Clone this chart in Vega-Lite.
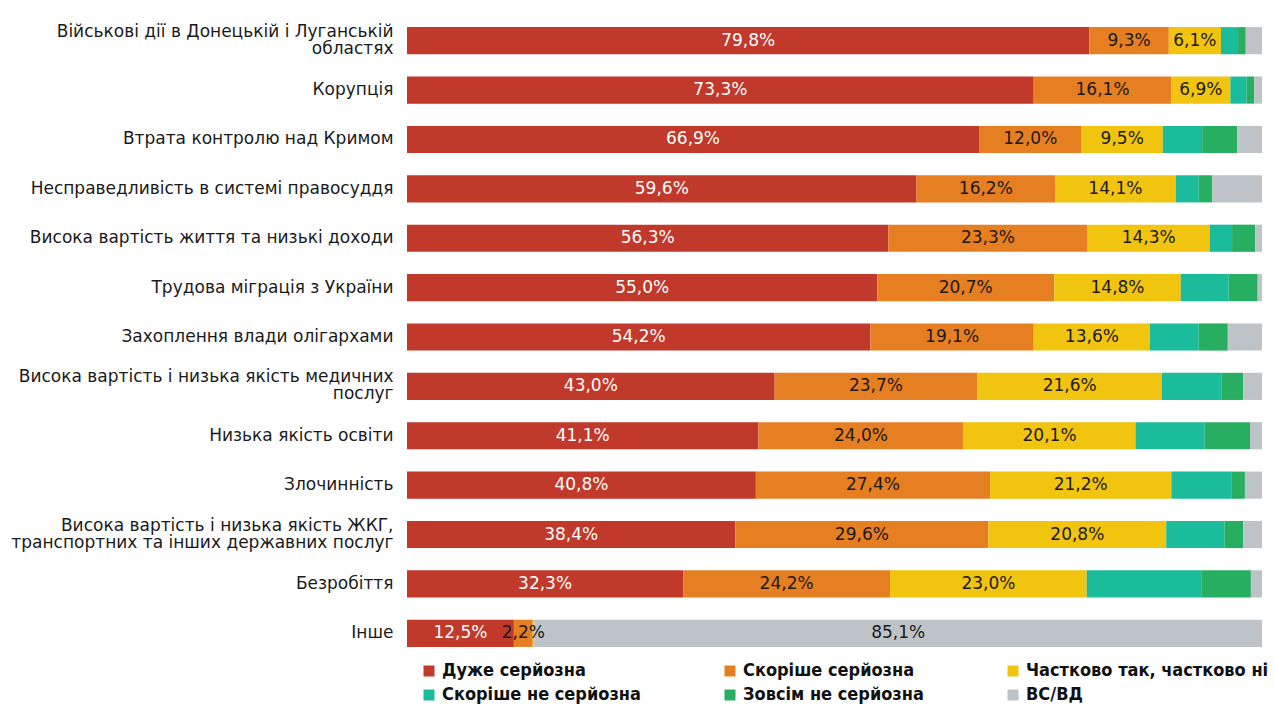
{
  "$schema": "https://vega.github.io/schema/vega-lite/v6.json",
  "width": 855,
  "height": 642,
  "autosize": {"type": "none"},
  "padding": {"left": 407, "top": 16, "right": 12, "bottom": 46},
  "background": "white",
  "config": {"view": {"stroke": null}, "font": "DejaVu Sans"},
  "data": {"values": [
    {"c": "Військові дії в Донецькій і Луганській областях", "r": "Дуже серйозна", "o": 1, "v": 79.8},
    {"c": "Військові дії в Донецькій і Луганській областях", "r": "Скоріше серйозна", "o": 2, "v": 9.3},
    {"c": "Військові дії в Донецькій і Луганській областях", "r": "Частково так, частково ні", "o": 3, "v": 6.1},
    {"c": "Військові дії в Донецькій і Луганській областях", "r": "Скоріше не серйозна", "o": 4, "v": 2.0},
    {"c": "Військові дії в Донецькій і Луганській областях", "r": "Зовсім не серйозна", "o": 5, "v": 0.9},
    {"c": "Військові дії в Донецькій і Луганській областях", "r": "ВС/ВД", "o": 6, "v": 1.9},
    {"c": "Корупція", "r": "Дуже серйозна", "o": 1, "v": 73.3},
    {"c": "Корупція", "r": "Скоріше серйозна", "o": 2, "v": 16.1},
    {"c": "Корупція", "r": "Частково так, частково ні", "o": 3, "v": 6.9},
    {"c": "Корупція", "r": "Скоріше не серйозна", "o": 4, "v": 1.9},
    {"c": "Корупція", "r": "Зовсім не серйозна", "o": 5, "v": 0.9},
    {"c": "Корупція", "r": "ВС/ВД", "o": 6, "v": 0.9},
    {"c": "Втрата контролю над Кримом", "r": "Дуже серйозна", "o": 1, "v": 66.9},
    {"c": "Втрата контролю над Кримом", "r": "Скоріше серйозна", "o": 2, "v": 12.0},
    {"c": "Втрата контролю над Кримом", "r": "Частково так, частково ні", "o": 3, "v": 9.5},
    {"c": "Втрата контролю над Кримом", "r": "Скоріше не серйозна", "o": 4, "v": 4.6},
    {"c": "Втрата контролю над Кримом", "r": "Зовсім не серйозна", "o": 5, "v": 4.1},
    {"c": "Втрата контролю над Кримом", "r": "ВС/ВД", "o": 6, "v": 2.9},
    {"c": "Несправедливість в системі правосуддя", "r": "Дуже серйозна", "o": 1, "v": 59.6},
    {"c": "Несправедливість в системі правосуддя", "r": "Скоріше серйозна", "o": 2, "v": 16.2},
    {"c": "Несправедливість в системі правосуддя", "r": "Частково так, частково ні", "o": 3, "v": 14.1},
    {"c": "Несправедливість в системі правосуддя", "r": "Скоріше не серйозна", "o": 4, "v": 2.7},
    {"c": "Несправедливість в системі правосуддя", "r": "Зовсім не серйозна", "o": 5, "v": 1.6},
    {"c": "Несправедливість в системі правосуддя", "r": "ВС/ВД", "o": 6, "v": 5.8},
    {"c": "Висока вартість життя та низькі доходи", "r": "Дуже серйозна", "o": 1, "v": 56.3},
    {"c": "Висока вартість життя та низькі доходи", "r": "Скоріше серйозна", "o": 2, "v": 23.3},
    {"c": "Висока вартість життя та низькі доходи", "r": "Частково так, частково ні", "o": 3, "v": 14.3},
    {"c": "Висока вартість життя та низькі доходи", "r": "Скоріше не серйозна", "o": 4, "v": 2.6},
    {"c": "Висока вартість життя та низькі доходи", "r": "Зовсім не серйозна", "o": 5, "v": 2.7},
    {"c": "Висока вартість життя та низькі доходи", "r": "ВС/ВД", "o": 6, "v": 0.8},
    {"c": "Трудова міграція з України", "r": "Дуже серйозна", "o": 1, "v": 55.0},
    {"c": "Трудова міграція з України", "r": "Скоріше серйозна", "o": 2, "v": 20.7},
    {"c": "Трудова міграція з України", "r": "Частково так, частково ні", "o": 3, "v": 14.8},
    {"c": "Трудова міграція з України", "r": "Скоріше не серйозна", "o": 4, "v": 5.6},
    {"c": "Трудова міграція з України", "r": "Зовсім не серйозна", "o": 5, "v": 3.4},
    {"c": "Трудова міграція з України", "r": "ВС/ВД", "o": 6, "v": 0.5},
    {"c": "Захоплення влади олігархами", "r": "Дуже серйозна", "o": 1, "v": 54.2},
    {"c": "Захоплення влади олігархами", "r": "Скоріше серйозна", "o": 2, "v": 19.1},
    {"c": "Захоплення влади олігархами", "r": "Частково так, частково ні", "o": 3, "v": 13.6},
    {"c": "Захоплення влади олігархами", "r": "Скоріше не серйозна", "o": 4, "v": 5.7},
    {"c": "Захоплення влади олігархами", "r": "Зовсім не серйозна", "o": 5, "v": 3.4},
    {"c": "Захоплення влади олігархами", "r": "ВС/ВД", "o": 6, "v": 4.0},
    {"c": "Висока вартість і низька якість медичних послуг", "r": "Дуже серйозна", "o": 1, "v": 43.0},
    {"c": "Висока вартість і низька якість медичних послуг", "r": "Скоріше серйозна", "o": 2, "v": 23.7},
    {"c": "Висока вартість і низька якість медичних послуг", "r": "Частково так, частково ні", "o": 3, "v": 21.6},
    {"c": "Висока вартість і низька якість медичних послуг", "r": "Скоріше не серйозна", "o": 4, "v": 7.0},
    {"c": "Висока вартість і низька якість медичних послуг", "r": "Зовсім не серйозна", "o": 5, "v": 2.5},
    {"c": "Висока вартість і низька якість медичних послуг", "r": "ВС/ВД", "o": 6, "v": 2.2},
    {"c": "Низька якість освіти", "r": "Дуже серйозна", "o": 1, "v": 41.1},
    {"c": "Низька якість освіти", "r": "Скоріше серйозна", "o": 2, "v": 24.0},
    {"c": "Низька якість освіти", "r": "Частково так, частково ні", "o": 3, "v": 20.1},
    {"c": "Низька якість освіти", "r": "Скоріше не серйозна", "o": 4, "v": 8.1},
    {"c": "Низька якість освіти", "r": "Зовсім не серйозна", "o": 5, "v": 5.3},
    {"c": "Низька якість освіти", "r": "ВС/ВД", "o": 6, "v": 1.4},
    {"c": "Злочинність", "r": "Дуже серйозна", "o": 1, "v": 40.8},
    {"c": "Злочинність", "r": "Скоріше серйозна", "o": 2, "v": 27.4},
    {"c": "Злочинність", "r": "Частково так, частково ні", "o": 3, "v": 21.2},
    {"c": "Злочинність", "r": "Скоріше не серйозна", "o": 4, "v": 7.0},
    {"c": "Злочинність", "r": "Зовсім не серйозна", "o": 5, "v": 1.6},
    {"c": "Злочинність", "r": "ВС/ВД", "o": 6, "v": 2.0},
    {"c": "Висока вартість і низька якість ЖКГ, транспортних та інших державних послуг", "r": "Дуже серйозна", "o": 1, "v": 38.4},
    {"c": "Висока вартість і низька якість ЖКГ, транспортних та інших державних послуг", "r": "Скоріше серйозна", "o": 2, "v": 29.6},
    {"c": "Висока вартість і низька якість ЖКГ, транспортних та інших державних послуг", "r": "Частково так, частково ні", "o": 3, "v": 20.8},
    {"c": "Висока вартість і низька якість ЖКГ, транспортних та інших державних послуг", "r": "Скоріше не серйозна", "o": 4, "v": 6.8},
    {"c": "Висока вартість і низька якість ЖКГ, транспортних та інших державних послуг", "r": "Зовсім не серйозна", "o": 5, "v": 2.2},
    {"c": "Висока вартість і низька якість ЖКГ, транспортних та інших державних послуг", "r": "ВС/ВД", "o": 6, "v": 2.2},
    {"c": "Безробіття", "r": "Дуже серйозна", "o": 1, "v": 32.3},
    {"c": "Безробіття", "r": "Скоріше серйозна", "o": 2, "v": 24.2},
    {"c": "Безробіття", "r": "Частково так, частково ні", "o": 3, "v": 23.0},
    {"c": "Безробіття", "r": "Скоріше не серйозна", "o": 4, "v": 13.4},
    {"c": "Безробіття", "r": "Зовсім не серйозна", "o": 5, "v": 5.8},
    {"c": "Безробіття", "r": "ВС/ВД", "o": 6, "v": 1.3},
    {"c": "Інше", "r": "Дуже серйозна", "o": 1, "v": 12.5},
    {"c": "Інше", "r": "Скоріше серйозна", "o": 2, "v": 2.2},
    {"c": "Інше", "r": "Частково так, частково ні", "o": 3, "v": 0.2},
    {"c": "Інше", "r": "Скоріше не серйозна", "o": 4, "v": 0},
    {"c": "Інше", "r": "Зовсім не серйозна", "o": 5, "v": 0},
    {"c": "Інше", "r": "ВС/ВД", "o": 6, "v": 85.1}
  ]},
  "transform": [
    {"calculate": "((datum.o <= 3 && datum.v >= 2) || datum.v > 50) ? replace(format(datum.v, '.1f'), '.', ',') + '%' : ''", "as": "lbl"}
  ],
  "encoding": {
    "y": {
      "field": "c", "type": "nominal", "sort": null,
      "scale": {"paddingInner": 0.45, "paddingOuter": 0.225},
      "axis": {
        "title": null, "domain": false, "ticks": false,
        "labelFontSize": 17, "labelColor": "#1a1a1a", "labelPadding": 14,
        "labelLimit": 420, "labelLineHeight": 17,
        "labelOffset": {"condition": {"test": "length(datum.value) > 40", "value": -9}, "value": 0},
        "labelExpr": "datum.value == 'Військові дії в Донецькій і Луганській областях' ? ['Військові дії в Донецькій і Луганській', 'областях'] : datum.value == 'Висока вартість і низька якість медичних послуг' ? ['Висока вартість і низька якість медичних', 'послуг'] : datum.value == 'Висока вартість і низька якість ЖКГ, транспортних та інших державних послуг' ? ['Висока вартість і низька якість ЖКГ,', 'транспортних та інших державних послуг'] : datum.label"
      }
    }
  },
  "layer": [
    {
      "mark": {"type": "bar"},
      "encoding": {
        "x": {"field": "v", "type": "quantitative", "stack": "zero", "scale": {"domain": [0, 100], "nice": false}, "axis": null},
        "color": {
          "field": "r", "type": "nominal",
          "scale": {
            "domain": ["Дуже серйозна", "Скоріше серйозна", "Частково так, частково ні", "Скоріше не серйозна", "Зовсім не серйозна", "ВС/ВД"],
            "range": ["#C0392B", "#E67E22", "#F1C40F", "#1ABC9C", "#27AE60", "#BDC3C7"]
          },
          "legend": {
            "title": null, "orient": "none", "legendX": 13, "legendY": 646,
            "direction": "horizontal", "columns": 3, "columnPadding": 80, "rowPadding": 6,
            "labelFont": "'DejaVu Sans Condensed', 'Liberation Sans', sans-serif", "labelFontWeight": "bold", "labelFontSize": 18,
            "labelColor": "#111111", "labelLimit": 300, "labelOffset": 4,
            "symbolType": "square", "symbolSize": 121, "symbolStrokeWidth": 0
          }
        },
        "order": {"field": "o", "type": "quantitative"}
      }
    },
    {
      "mark": {"type": "text", "fontSize": 17, "baseline": "middle", "align": "center"},
      "encoding": {
        "x": {"field": "v", "type": "quantitative", "stack": "zero", "bandPosition": 0.5},
        "detail": {"field": "r"},
        "order": {"field": "o", "type": "quantitative"},
        "text": {"field": "lbl"},
        "color": {"condition": {"test": "datum.o == 1", "value": "white"}, "value": "#1a1a1a"}
      }
    }
  ]
}
